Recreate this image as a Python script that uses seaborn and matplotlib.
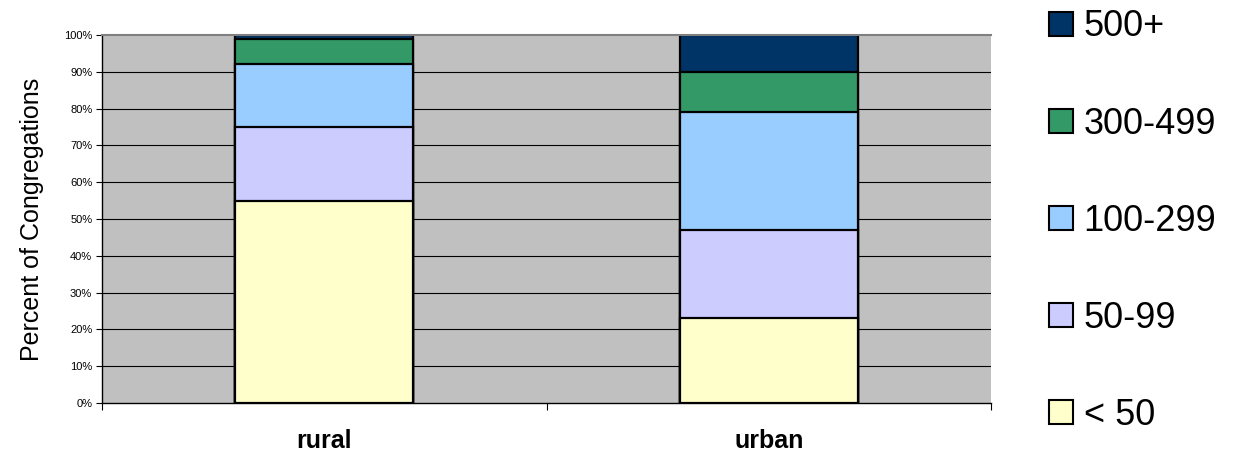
import matplotlib
matplotlib.use("Agg")
import matplotlib.pyplot as plt
from matplotlib.patches import Patch
import seaborn as sns
import numpy as np

categories = ["rural", "urban"]
series_names = ["< 50", "50-99", "100-299", "300-499", "500+"]
lt50 = [55, 23]
s50_99 = [20, 24]
s100_299 = [17, 32]
s300_499 = [7, 11]
s500p = [1, 10]
colors = ["#FFFFCC", "#CCCCFF", "#99CCFF", "#339966", "#003366"]
yticks = [0, 10, 20, 30, 40, 50, 60, 70, 80, 90, 100]

sns.set_theme(style="white")
plt.rcParams['font.family'] = ['Liberation Sans', 'DejaVu Sans']
plt.rcParams['text.color'] = 'black'
plt.rcParams['axes.labelcolor'] = 'black'
plt.rcParams['xtick.color'] = 'black'
plt.rcParams['ytick.color'] = 'black'

fig = plt.figure(figsize=(12.35, 4.57), dpi=100)
ax = fig.add_axes([102/1235, 1-403/457, 889/1235, 368/457])
ax.set_facecolor("#C0C0C0")

data = np.array([lt50, s50_99, s100_299, s300_499, s500p], dtype=float)
cum = np.cumsum(data, axis=0)

# gridlines
for y in yticks[1:-1]:
    ax.axhline(y, color="black", lw=0.8, zorder=0.5)

# draw from top-most cumulative down so lower segments overlay
for i in range(len(series_names) - 1, -1, -1):
    sns.barplot(x=categories, y=cum[i], color=colors[i], edgecolor="black",
                linewidth=1.6, width=0.4, saturation=1, ax=ax, zorder=2)

ax.set_xlim(-0.5, 1.5)
ax.set_ylim(0, 100)
ax.set_yticks(yticks)
ax.set_yticklabels([f"{v}%" for v in yticks], fontsize=8)
ax.set_xticks([-0.5, 0.5, 1.5], minor=False)
ax.set_xticklabels([])
ax.set_xticks([0, 1], minor=True)
ax.set_xticklabels(categories, minor=True, fontsize=18, fontweight="bold")
ax.tick_params(axis="x", which="minor", length=0, pad=19)
ax.tick_params(axis="x", which="major", length=5, width=0.8, color="black", bottom=True)
ax.tick_params(axis="y", length=4, width=0.8, color="black", left=True, pad=3)

ax.set_ylabel("Percent of Congregations", fontsize=18, labelpad=14)
ax.set_xlabel("")

for s in ["left", "bottom"]:
    ax.spines[s].set_visible(True)
    ax.spines[s].set_color("black")
    ax.spines[s].set_linewidth(1.0)
ax.spines["right"].set_visible(False)
ax.spines["top"].set_visible(True)
ax.spines["top"].set_color("#808080")
ax.spines["top"].set_linewidth(1.5)

handles = [Patch(facecolor=colors[i], edgecolor="black", linewidth=1.5, label=series_names[i])
           for i in range(len(series_names) - 1, -1, -1)]
fig.legend(handles=handles, loc="upper left", bbox_to_anchor=(1049/1235, 1-9.5/457),
           frameon=False, fontsize=26, handlelength=0.66, handleheight=0.66,
           handletextpad=0.3, labelspacing=1.72, borderpad=0, borderaxespad=0)

fig.savefig("out.png", dpi=100)
